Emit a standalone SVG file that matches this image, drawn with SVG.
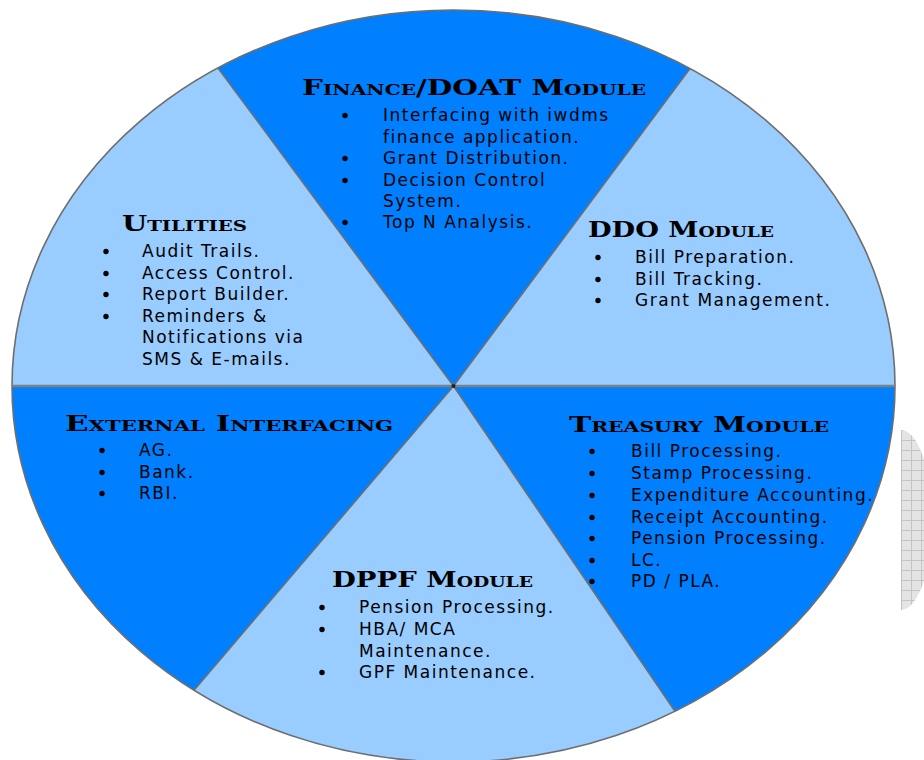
<svg xmlns="http://www.w3.org/2000/svg" width="924" height="760" viewBox="0 0 924 760">
<defs>
<pattern id="grid" width="10" height="10" patternUnits="userSpaceOnUse" x="901" y="430">
<rect width="10" height="10" fill="#e4e4e4"/>
<path d="M0,0.5H10M0.5,0V10" stroke="#c4c4c4" stroke-width="1" fill="none"/>
</pattern>
<style>
.dark{fill:#0080ff;}
.light{fill:#99ccff;}
.div{stroke:#6e6e6e;stroke-width:1.6;fill:none;}
.hd{font-family:"DejaVu Serif","Liberation Serif",serif;font-weight:bold;font-variant:small-caps;font-size:22px;fill:#000;}
.tx{font-family:"DejaVu Sans","Liberation Sans",sans-serif;font-size:17px;letter-spacing:1.5px;fill:#000;}
.b{fill:#000;}
</style>
</defs>
<rect width="924" height="760" fill="#ffffff"/>
<path d="M901,430 A31,90 0 0 1 901,610 Z" fill="url(#grid)"/>

<g id="finance">
<path class="dark" d="M453.5,386 L218,67.9 A441.5,376 0 0 1 690,68.5 Z"/>
<text class="hd" x="302" y="95" textLength="344" lengthAdjust="spacingAndGlyphs">Finance/DOAT Module</text>
<circle class="b" cx="345" cy="115.5" r="2.7"/>
<text class="tx" x="383" y="121">Interfacing with iwdms</text>
<text class="tx" x="383" y="143">finance application.</text>
<circle class="b" cx="345" cy="158.5" r="2.7"/>
<text class="tx" x="383" y="164">Grant Distribution.</text>
<circle class="b" cx="345" cy="180.5" r="2.7"/>
<text class="tx" x="383" y="186">Decision Control</text>
<text class="tx" x="383" y="207">System.</text>
<circle class="b" cx="345" cy="222.5" r="2.7"/>
<text class="tx" x="383" y="228">Top N Analysis.</text>
</g>

<g id="ddo">
<path class="light" d="M453.5,386 L690,68.5 A441.5,376 0 0 1 895,386 Z"/>
<text class="hd" x="588" y="237" textLength="186" lengthAdjust="spacingAndGlyphs">DDO Module</text>
<circle class="b" cx="598" cy="257.5" r="2.7"/>
<text class="tx" x="635" y="263">Bill Preparation.</text>
<circle class="b" cx="598" cy="279.5" r="2.7"/>
<text class="tx" x="635" y="285">Bill Tracking.</text>
<circle class="b" cx="598" cy="300.5" r="2.7"/>
<text class="tx" x="635" y="306">Grant Management.</text>
</g>

<g id="treasury">
<path class="dark" d="M453.5,386 L895,386 A441.5,376 0 0 1 675,711.2 Z"/>
<text class="hd" x="569" y="432" textLength="260" lengthAdjust="spacingAndGlyphs">Treasury Module</text>
<circle class="b" cx="592" cy="451.5" r="2.7"/>
<text class="tx" x="631" y="457">Bill Processing.</text>
<circle class="b" cx="592" cy="473.5" r="2.7"/>
<text class="tx" x="631" y="479">Stamp Processing.</text>
<circle class="b" cx="592" cy="495.5" r="2.7"/>
<text class="tx" x="631" y="501">Expenditure Accounting.</text>
<circle class="b" cx="592" cy="517.5" r="2.7"/>
<text class="tx" x="631" y="523">Receipt Accounting.</text>
<circle class="b" cx="592" cy="538.5" r="2.7"/>
<text class="tx" x="631" y="544">Pension Processing.</text>
<circle class="b" cx="592" cy="560.5" r="2.7"/>
<text class="tx" x="631" y="566">LC.</text>
<circle class="b" cx="592" cy="581.5" r="2.7"/>
<text class="tx" x="631" y="587">PD / PLA.</text>
</g>

<g id="dppf">
<path class="light" d="M453.5,386 L675,711.2 A441.5,376 0 0 1 194,690.2 Z"/>
<text class="hd" x="332" y="587" textLength="201" lengthAdjust="spacingAndGlyphs">DPPF Module</text>
<circle class="b" cx="322" cy="607.5" r="2.7"/>
<text class="tx" x="359" y="613">Pension Processing.</text>
<circle class="b" cx="322" cy="629.5" r="2.7"/>
<text class="tx" x="359" y="635">HBA/ MCA</text>
<text class="tx" x="359" y="657">Maintenance.</text>
<circle class="b" cx="322" cy="672.5" r="2.7"/>
<text class="tx" x="359" y="678">GPF Maintenance.</text>
</g>

<g id="external">
<path class="dark" d="M453.5,386 L194,690.2 A441.5,376 0 0 1 12,386 Z"/>
<text class="hd" x="65" y="431" textLength="328" lengthAdjust="spacingAndGlyphs">External Interfacing</text>
<circle class="b" cx="102" cy="450.5" r="2.7"/>
<text class="tx" x="139" y="456">AG.</text>
<circle class="b" cx="102" cy="472.5" r="2.7"/>
<text class="tx" x="139" y="478">Bank.</text>
<circle class="b" cx="102" cy="493.5" r="2.7"/>
<text class="tx" x="139" y="499">RBI.</text>
</g>

<g id="utilities">
<path class="light" d="M453.5,386 L12,386 A441.5,376 0 0 1 218,67.9 Z"/>
<text class="hd" x="122" y="231" textLength="125" lengthAdjust="spacingAndGlyphs">Utilities</text>
<circle class="b" cx="106" cy="251.5" r="2.7"/>
<text class="tx" x="142" y="257">Audit Trails.</text>
<circle class="b" cx="106" cy="273.5" r="2.7"/>
<text class="tx" x="142" y="279">Access Control.</text>
<circle class="b" cx="106" cy="294.5" r="2.7"/>
<text class="tx" x="142" y="300">Report Builder.</text>
<circle class="b" cx="106" cy="316.5" r="2.7"/>
<text class="tx" x="142" y="322">Reminders &amp;</text>
<text class="tx" x="142" y="343">Notifications via</text>
<text class="tx" x="142" y="365">SMS &amp; E-mails.</text>
</g>

<g id="connectors">
<ellipse class="div" cx="453.5" cy="386" rx="441.5" ry="376"/>
<line class="div" x1="12" y1="386" x2="895" y2="386" style="stroke:#808080;stroke-width:2.4"/>
<path class="div" d="M453.5,386 L218,67.9 M453.5,386 L690,68.5 M453.5,386 L675,711.2 M453.5,386 L194,690.2"/>
<circle cx="453.5" cy="386" r="2" fill="#222"/>
</g>
</svg>
